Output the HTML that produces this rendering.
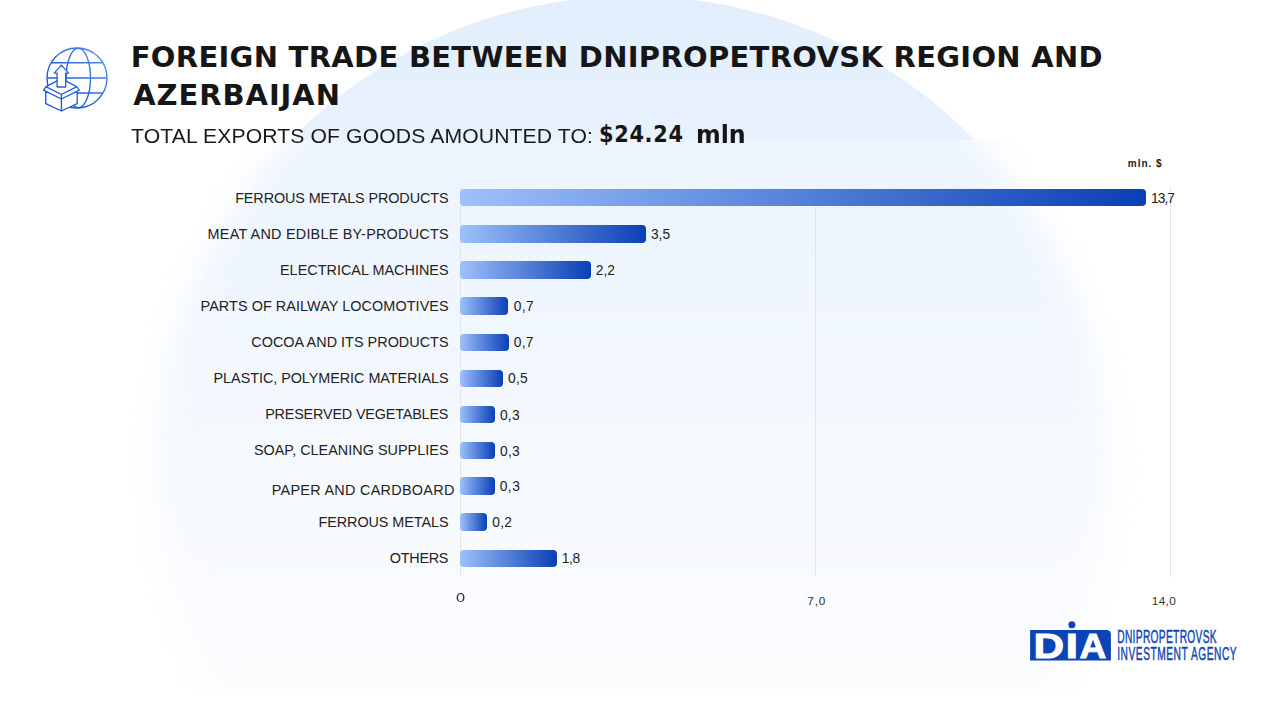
<!DOCTYPE html>
<html>
<head>
<meta charset="utf-8">
<style>
html,body{margin:0;padding:0;}
body{width:1280px;height:720px;overflow:hidden;background:#fff;position:relative;font-family:"Liberation Sans",Arial,sans-serif;}
.abs{position:absolute;}
#circle{position:absolute;left:153.9px;top:-3.6px;width:956.8px;height:956.8px;border-radius:50%;background:linear-gradient(to bottom,#e2eefd 0px,#e8f2fd 143px,#f3f8fe 400px,#fff 700px);clip-path:inset(0 0 813.2px 0);}
#card{position:absolute;left:0;top:140px;width:1280px;height:549px;overflow:hidden;}
#blob{position:absolute;left:153.9px;top:-143.6px;width:956.8px;height:956.8px;border-radius:50%;background:linear-gradient(to bottom,#e8f2fd 0px,#ecf4fe 142px,#f0f6fe 282px,#f5f9fe 442px,#f9fbfe 592px,#fbfcfe 690px,#fdfeff 966px);filter:blur(16px);}
.tx{position:absolute;white-space:nowrap;line-height:1;}
.lb{-webkit-text-stroke:0.25px currentColor;}
.bar{position:absolute;left:460px;height:17.3px;border-radius:4px;background:linear-gradient(to right,#9dc1fb,#0a3fb6);}
.grid{position:absolute;width:1px;background:#e3e7ec;top:187px;height:390px;}
</style>
</head>
<body>
<div id="circle"></div>
<div id="card"><div id="blob"></div></div>

<svg class="abs" style="left:0;top:0" width="130" height="130" viewBox="0 0 130 130">
<defs><linearGradient id="ig" gradientUnits="userSpaceOnUse" x1="44" y1="108" x2="108" y2="52"><stop offset="0" stop-color="#1450d4"/><stop offset="0.5" stop-color="#2b66df"/><stop offset="1" stop-color="#5d92f0"/></linearGradient></defs>
<g fill="none" stroke="url(#ig)" stroke-width="1.4">
<circle cx="77" cy="78" r="30"/>
<ellipse cx="78.3" cy="78" rx="12.2" ry="29.8"/>
<path d="M51.5 62.8H102.5M47.2 78H106.8M77 93H102"/>
</g>
<g fill="#fff" stroke="url(#ig)" stroke-width="1.35" stroke-linejoin="round" stroke-linecap="round">
<path stroke="none" d="M43.5 90.1L46.1 86.7L61.4 78.5L76.7 86.7L79.3 90.1L77.2 91.2V103.7L61.4 111L45.75 103.7V91.2Z"/>
<path fill="none" d="M57.1 80.8L46.1 86.7L43.5 90.1L61.4 99L79.3 90.1L76.7 86.7L65.7 80.8M46.8 87.1L61.4 94.5L76 87.1M45.75 91.2V103.7L61.4 111L77.2 103.7V91.2M61.4 94.5V111"/>
<path d="M57.1 87V73.1H54.2L61.4 65.1L68.6 73.1H65.7V87Z"/>
</g>
</svg>

<div class="grid" style="left:460px"></div>
<div class="grid" style="left:815px"></div>
<div class="grid" style="left:1170px"></div>

<div class="bar" style="top:189.2px;width:685.9px"></div>
<div class="bar" style="top:225.3px;width:185.7px"></div>
<div class="bar" style="top:261.3px;width:130.5px"></div>
<div class="bar" style="top:297.3px;width:48.4px"></div>
<div class="bar" style="top:333.6px;width:48.5px"></div>
<div class="bar" style="top:369.6px;width:42.6px"></div>
<div class="bar" style="top:405.5px;width:34.6px"></div>
<div class="bar" style="top:441.5px;width:34.6px"></div>
<div class="bar" style="top:477.3px;width:34.7px"></div>
<div class="bar" style="top:513.3px;width:27.1px"></div>
<div class="bar" style="top:549.6px;width:97.1px"></div>

<div id="t1" class="tx" style="font-family:'DejaVu Sans',sans-serif;left:130.72px;top:43.10px;font-size:29px;font-weight:bold;color:#161616;letter-spacing:0.290px">FOREIGN TRADE BETWEEN DNIPROPETROVSK REGION AND</div>
<div id="t2" class="tx" style="font-family:'DejaVu Sans',sans-serif;left:133.16px;top:80.90px;font-size:29px;font-weight:bold;color:#161616;letter-spacing:0.931px">AZERBAIJAN</div>
<div id="sub" class="tx" style="left:131.45px;top:126.72px;font-size:19.6px;font-weight:normal;color:#1a1a1a;letter-spacing:0.101px;transform:scaleX(1.08);transform-origin:0 0">TOTAL EXPORTS OF GOODS AMOUNTED TO:</div>
<div id="amt" class="tx" style="font-family:'DejaVu Sans Condensed',sans-serif;left:598.94px;top:121.93px;font-size:23.2px;font-weight:bold;color:#161616;letter-spacing:0.706px">$24.24</div>
<div id="mln" class="tx" style="font-family:'DejaVu Sans Condensed',sans-serif;left:696.13px;top:123.20px;font-size:24px;font-weight:bold;color:#161616;letter-spacing:-0.023px;transform:scaleX(1.1);transform-origin:0 0">mln</div>
<div id="unit" class="tx" style="left:1127.79px;top:158.50px;font-size:10px;font-weight:bold;color:#1a1a1a;letter-spacing:0.988px">mln. $</div>
<div id="l0" class="tx" style="left:235.20px;top:191.45px;font-size:14.4px;font-weight:normal;color:#222;letter-spacing:-0.105px">FERROUS METALS PRODUCTS</div>
<div id="l1" class="tx" style="left:207.60px;top:227.46px;font-size:14.4px;font-weight:normal;color:#222;letter-spacing:0.234px">MEAT AND EDIBLE BY-PRODUCTS</div>
<div id="l2" class="tx" style="left:280.00px;top:263.45px;font-size:14.4px;font-weight:normal;color:#222;letter-spacing:0.022px">ELECTRICAL MACHINES</div>
<div id="l3" class="tx" style="left:200.54px;top:298.52px;font-size:14.4px;font-weight:normal;color:#222;letter-spacing:0.075px">PARTS OF RAILWAY LOCOMOTIVES</div>
<div id="l4" class="tx" style="left:251.28px;top:334.50px;font-size:14.4px;font-weight:normal;color:#222;letter-spacing:0.027px">COCOA AND ITS PRODUCTS</div>
<div id="l5" class="tx" style="left:213.57px;top:370.50px;font-size:14.4px;font-weight:normal;color:#222;letter-spacing:-0.045px">PLASTIC, POLYMERIC MATERIALS</div>
<div id="l6" class="tx" style="left:265.15px;top:406.50px;font-size:14.4px;font-weight:normal;color:#222;letter-spacing:-0.176px">PRESERVED VEGETABLES</div>
<div id="l7" class="tx" style="left:253.92px;top:442.50px;font-size:14.4px;font-weight:normal;color:#222;letter-spacing:0.023px">SOAP, CLEANING SUPPLIES</div>
<div id="l8" class="tx" style="left:271.71px;top:483.03px;font-size:14.4px;font-weight:normal;color:#222;letter-spacing:0.297px">PAPER AND CARDBOARD</div>
<div id="l9" class="tx" style="left:318.53px;top:515.18px;font-size:14.4px;font-weight:normal;color:#222;letter-spacing:-0.068px">FERROUS METALS</div>
<div id="l10" class="tx" style="left:389.84px;top:551.18px;font-size:14.4px;font-weight:normal;color:#222;letter-spacing:-0.267px">OTHERS</div>
<div id="v0" class="tx" style="left:1150.88px;top:192.45px;font-size:13.8px;font-weight:normal;color:#222;letter-spacing:-0.898px">13,7</div>
<div id="v1" class="tx" style="left:650.91px;top:228.30px;font-size:13.8px;font-weight:normal;color:#222;letter-spacing:0.029px">3,5</div>
<div id="v2" class="tx" style="left:595.80px;top:263.92px;font-size:13.8px;font-weight:normal;color:#222;letter-spacing:0.012px">2,2</div>
<div id="v3" class="tx" style="left:513.86px;top:300.31px;font-size:13.8px;font-weight:normal;color:#222;letter-spacing:0.281px">0,7</div>
<div id="v4" class="tx" style="left:513.80px;top:336.01px;font-size:13.8px;font-weight:normal;color:#222;letter-spacing:0.243px">0,7</div>
<div id="v5" class="tx" style="left:508.00px;top:372.01px;font-size:13.8px;font-weight:normal;color:#222;letter-spacing:0.244px">0,5</div>
<div id="v6" class="tx" style="left:499.90px;top:408.78px;font-size:13.8px;font-weight:normal;color:#222;letter-spacing:0.306px">0,3</div>
<div id="v7" class="tx" style="left:500.11px;top:444.82px;font-size:13.8px;font-weight:normal;color:#222;letter-spacing:0.204px">0,3</div>
<div id="v8" class="tx" style="left:499.72px;top:479.94px;font-size:13.8px;font-weight:normal;color:#222;letter-spacing:0.471px">0,3</div>
<div id="v9" class="tx" style="left:492.20px;top:516.14px;font-size:13.8px;font-weight:normal;color:#222;letter-spacing:0.336px">0,2</div>
<div id="v10" class="tx" style="left:561.86px;top:552.05px;font-size:13.8px;font-weight:normal;color:#222;letter-spacing:-0.457px">1,8</div>
<div id="a0" class="tx" style="left:456.06px;top:591.65px;font-size:12.6px;font-weight:normal;color:#333;letter-spacing:0.000px;transform:scaleX(1.3);transform-origin:0 0">0</div>
<div id="a1" class="tx" style="left:807.27px;top:596.04px;font-size:11.8px;font-weight:normal;color:#333;letter-spacing:0.869px">7,0</div>
<div id="a2" class="tx" style="left:1151.70px;top:595.54px;font-size:11.8px;font-weight:normal;color:#333;letter-spacing:0.378px">14,0</div>

<svg class="abs" style="left:1020px;top:615px" width="230" height="55" viewBox="1020 615 230 55">
<path d="M1030.1 630.1H1106.7A4.2 4.2 0 0 1 1110.9 634.3V660.5H1030.1Z" fill="#0b45b5"/>
<circle cx="1071.9" cy="624.7" r="3.5" fill="#0b45b5"/>
<g font-family="Liberation Sans, sans-serif" font-weight="bold" font-size="35" fill="#fff" stroke="#fff" stroke-width="0.9">
<text id="lgD" x="1033.6" y="657.7" textLength="30.6" lengthAdjust="spacingAndGlyphs">D</text>
<text id="lgI" x="1065.6" y="657.7" textLength="12.6" lengthAdjust="spacingAndGlyphs">I</text>
<text id="lgA" x="1079.4" y="657.7" textLength="26.8" lengthAdjust="spacingAndGlyphs">A</text>
</g>
<g font-family="Liberation Sans, sans-serif" font-size="17.6" fill="#0b45b5" stroke="#0b45b5" stroke-width="0.45">
<text transform="translate(1117.2 642.8) scale(0.58 1)" x="0" y="0" textLength="171.5" lengthAdjust="spacing">DNIPROPETROVSK</text>
<text transform="translate(1117.2 660.4) scale(0.58 1)" x="0" y="0" textLength="206" lengthAdjust="spacing">INVESTMENT AGENCY</text>
</g>
</svg>
</body>
</html>
